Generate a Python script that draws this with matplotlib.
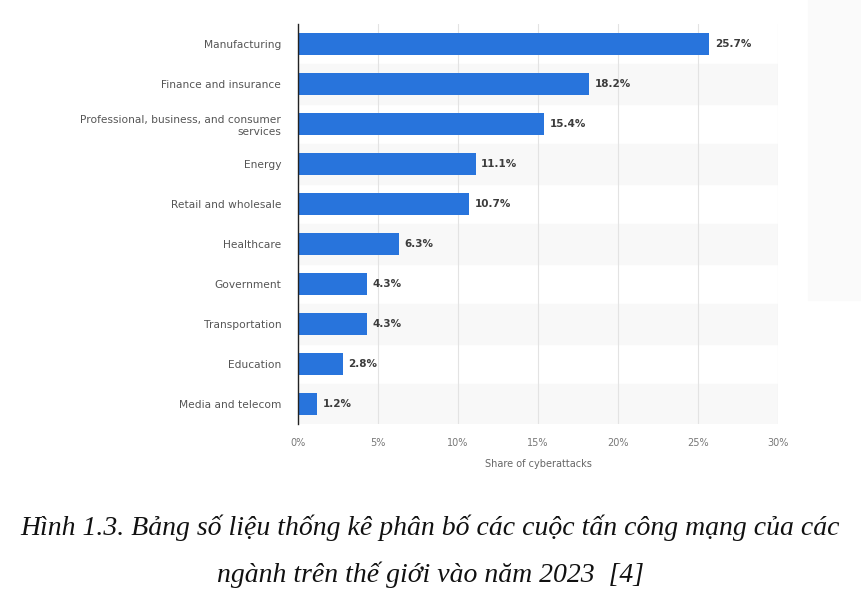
import matplotlib.pyplot as plt
from matplotlib.patches import Rectangle

industries = [
    "Manufacturing",
    "Finance and insurance",
    "Professional, business, and consumer\nservices",
    "Energy",
    "Retail and wholesale",
    "Healthcare",
    "Government",
    "Transportation",
    "Education",
    "Media and telecom",
]
shares = [25.7, 18.2, 15.4, 11.1, 10.7, 6.3, 4.3, 4.3, 2.8, 1.2]
x_ticks = [0, 5, 10, 15, 20, 25, 30]

caption = ("Hình 1.3. Bảng số liệu thống kê phân bố các cuộc tấn công mạng của các\n"
           "ngành trên thế giới vào năm 2023  [4]")

fig = plt.figure(figsize=(8.61, 6.09), dpi=100)
ax = fig.add_axes([298 / 861, 1 - 424 / 609, 480 / 861, 400 / 609])

# faint shadow at the right edge of the screenshot
fig.patches.append(Rectangle((808 / 861, 1 - 300 / 609), 53 / 861, 300 / 609,
                             transform=fig.transFigure, color="#fafafa", zorder=0))

y = list(range(len(industries)))
for i in y:
    if i % 2 == 1:
        ax.axhspan(i - 0.5, i + 0.5, color="#f8f8f8", zorder=0)

ax.barh(y, shares, height=0.56, color="#2874dc", zorder=3)
for i, v in zip(y, shares):
    ax.text(v + 0.35, i, f"{v}%", va="center", ha="left", fontsize=7.5,
            fontweight="bold", color="#3c3c3c", zorder=4)

ax.set_xlim(0, 30)
ax.set_ylim(len(industries) - 0.5, -0.5)
ax.set_yticks(y)
ax.set_yticklabels(industries, fontsize=7.7, color="#555555")
ax.set_xticks(x_ticks)
ax.set_xticklabels([f"{t}%" for t in x_ticks], fontsize=7, color="#777777")
ax.tick_params(axis="both", length=0)
ax.tick_params(axis="y", pad=12)
ax.tick_params(axis="x", pad=10)
ax.set_xlabel("Share of cyberattacks", fontsize=7, color="#666666", labelpad=8)

ax.grid(axis="x", color="#e3e3e3", linewidth=0.8, zorder=1)
for s in ["top", "right", "bottom"]:
    ax.spines[s].set_visible(False)
ax.spines["left"].set_color("#222222")
ax.spines["left"].set_linewidth(1.0)
ax.spines["left"].set_zorder(5)

fig.text(0.5, 1 - 551 / 609, caption, ha="center", va="center",
         family="Liberation Serif", style="italic", fontsize=20,
         color="#111111", linespacing=2.0)

fig.savefig("out.png", dpi=100)
